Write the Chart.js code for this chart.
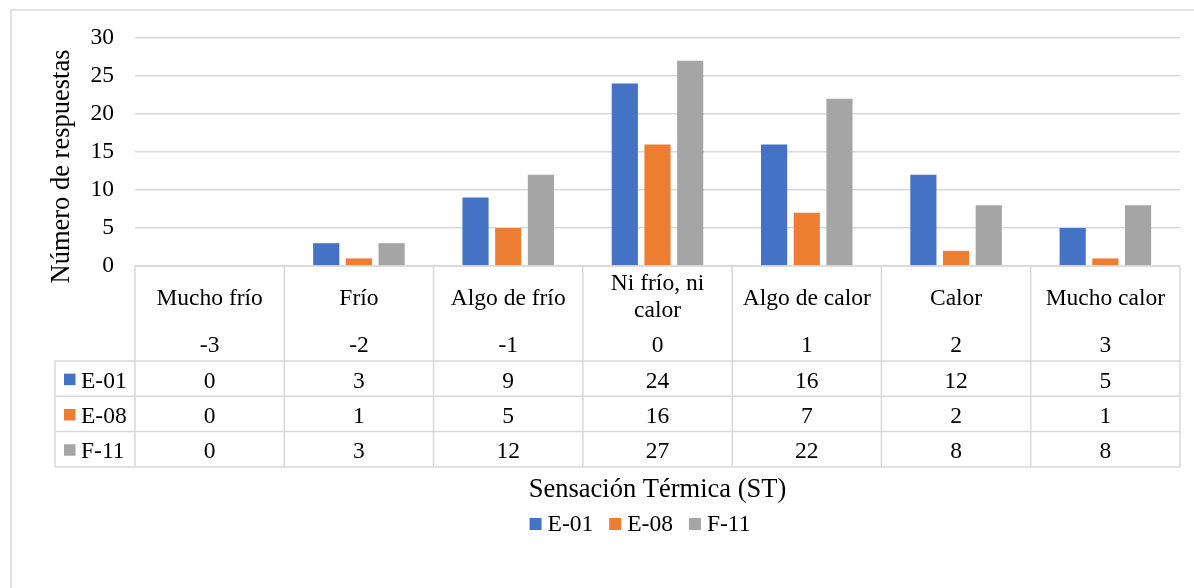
<!DOCTYPE html>
<html>
<head>
<meta charset="utf-8">
<script src="https://cdn.jsdelivr.net/npm/chart.js@4/dist/chart.umd.min.js"></script>
<style>
  body { margin: 0; background: #fff; }
  #wrap { position: relative; width: 1194px; height: 588px; }
</style>
</head>
<body>
<div id="wrap"><canvas id="stChart"></canvas></div>
<script>
// categories (Sensación Térmica) and their scale codes
var categories = ['Mucho frío', 'Frío', 'Algo de frío', ['Ni frío, ni', 'calor'], 'Algo de calor', 'Calor', 'Mucho calor'];
var stCodes = ['-3', '-2', '-1', '0', '1', '2', '3'];

// responses per station
var seriesNames = ['E-01', 'E-08', 'F-11'];
var e01 = [0, 3, 9, 24, 16, 12, 5];
var e08 = [0, 1, 5, 16, 7, 2, 1];
var f11 = [0, 3, 12, 27, 22, 8, 8];
var colors = ['#4472C4', '#ED7D31', '#A5A5A5'];

var yMax = 30;
var yStep = 5;
var yTitle = 'Número de respuestas';
var xTitle = 'Sensación Térmica (ST)';

var serif = 'Liberation Serif';
var gridColor = '#d9d9d9';

// draws the outer frame, the data table under the plot, axis titles and legend
var tablePlugin = {
    id: 'dataTable',
    afterDraw: function(chart) {
        var ctx = chart.ctx;
        var area = chart.chartArea;
        var xs = chart.scales.x;
        var n = chart.data.labels.length;
        var colW = (area.right - area.left) / n;
        var top = area.bottom;
        var headBottom = top + 95;
        var rowH = 35.3;
        var nRows = chart.data.datasets.length;
        var tableBottom = headBottom + rowH * nRows;
        var keyLeft = 55;

        ctx.save();
        // outer chart frame
        ctx.strokeStyle = gridColor;
        ctx.lineWidth = 1.5;
        ctx.beginPath();
        ctx.moveTo(11, 588);
        ctx.lineTo(11, 10);
        ctx.lineTo(1194, 10);
        ctx.stroke();

        // table lines
        ctx.beginPath();
        ctx.moveTo(area.left, top);
        ctx.lineTo(area.right, top);
        for (var r = 0; r <= nRows; r++) {
            var y = headBottom + r * rowH;
            ctx.moveTo(keyLeft, y);
            ctx.lineTo(area.right, y);
        }
        ctx.moveTo(keyLeft, headBottom);
        ctx.lineTo(keyLeft, tableBottom);
        for (var i = 0; i <= n; i++) {
            var x = area.left + i * colW;
            ctx.moveTo(x, top);
            ctx.lineTo(x, tableBottom);
        }
        ctx.stroke();

        // table text
        ctx.fillStyle = '#000';
        ctx.font = '23.5px "' + serif + '"';
        ctx.textAlign = 'center';
        ctx.textBaseline = 'alphabetic';
        for (var c = 0; c < n; c++) {
            var cx = xs.getPixelForValue(c);
            var lab = chart.data.labels[c];
            if (Array.isArray(lab)) {
                ctx.fillText(lab[0], cx, top + 24);
                ctx.fillText(lab[1], cx, top + 51);
            } else {
                ctx.fillText(lab, cx, top + 39);
            }
            ctx.fillText(stCodes[c], cx, top + 86);
            chart.data.datasets.forEach(function(ds, k) {
                var by = headBottom + k * rowH + rowH / 2 + 9;
                ctx.fillText(String(ds.data[c]), cx, by);
            });
        }

        // series keys in the table
        ctx.textAlign = 'left';
        chart.data.datasets.forEach(function(ds, k) {
            var my = headBottom + k * rowH + rowH / 2;
            ctx.fillStyle = ds.backgroundColor;
            ctx.fillRect(64, my - 5, 11.5, 11.5);
            ctx.fillStyle = '#000';
            ctx.fillText(ds.label, 81, my + 9);
        });

        // axis titles
        ctx.font = '26.5px "' + serif + '"';
        ctx.textAlign = 'center';
        ctx.fillText(xTitle, (area.left + area.right) / 2, 497);
        ctx.save();
        ctx.translate(68.5, 166.5);
        ctx.rotate(-Math.PI / 2);
        ctx.fillText(yTitle, 0, 0);
        ctx.restore();

        // legend
        ctx.font = '23.5px "' + serif + '"';
        ctx.textAlign = 'left';
        var box = 12, gap = 6, itemGap = 16;
        var widths = chart.data.datasets.map(function(ds) { return box + gap + ctx.measureText(ds.label).width; });
        var total = widths.reduce(function(a, b) { return a + b; }, 0) + itemGap * (widths.length - 1);
        var lx = 640 - total / 2;
        chart.data.datasets.forEach(function(ds, k) {
            ctx.fillStyle = ds.backgroundColor;
            ctx.fillRect(lx, 518, box, box);
            ctx.fillStyle = '#000';
            ctx.fillText(ds.label, lx + box + gap, 531);
            lx += widths[k] + itemGap;
        });
        ctx.restore();
    }
};

var ctx = document.getElementById('stChart').getContext('2d');
var stChart = new Chart(ctx, {
    type: 'bar',
    data: {
        labels: categories,
        datasets: [
            { label: seriesNames[0], data: e01, backgroundColor: colors[0] },
            { label: seriesNames[1], data: e08, backgroundColor: colors[1] },
            { label: seriesNames[2], data: f11, backgroundColor: colors[2] }
        ]
    },
    options: {
        responsive: true,
        maintainAspectRatio: false,
        animation: false,
        layout: { padding: { left: 0, top: 38, right: 14, bottom: 322 } },
        datasets: { bar: { categoryPercentage: 0.657, barPercentage: 0.8 } },
        plugins: {
            legend: { display: false },
            tooltip: { enabled: false }
        },
        scales: {
            x: { display: false },
            y: {
                min: 0,
                max: yMax,
                afterFit: function(scale) { scale.width = 135; },
                ticks: {
                    stepSize: yStep,
                    padding: 21,
                    color: '#000',
                    font: { family: serif, size: 23.5 }
                },
                grid: { color: gridColor, lineWidth: 1.5, drawTicks: false },
                border: { display: false }
            }
        }
    },
    plugins: [tablePlugin]
});
</script>
</body>
</html>
